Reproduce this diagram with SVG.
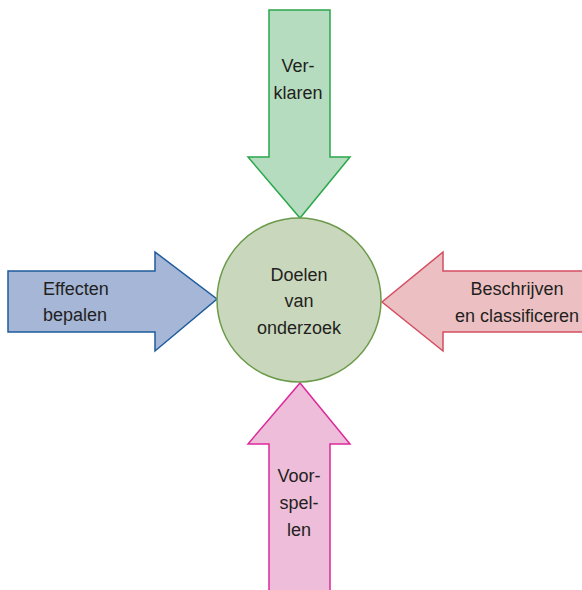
<svg xmlns="http://www.w3.org/2000/svg" width="582" height="590" viewBox="0 0 582 590">
<style>
text{font-family:"Liberation Sans",Arial,sans-serif;font-size:18px;fill:#231f20}
.c{text-anchor:middle}
.a{stroke-width:1.5;stroke-linejoin:miter}
</style>
<rect width="582" height="590" fill="#ffffff"/>
<g id="connectors">
<polygon id="arrow-top" class="a" points="269,10 330,10 330,157 350,157 300,218 248,157 269,157" fill="#b5dcbe" stroke="#2aa74b"/>
<polygon id="arrow-left" class="a" points="8,271 155,271 155,252 217,299 155,351 155,332 8,332" fill="#a5b6d7" stroke="#1e5c9c"/>
<polygon id="arrow-right" class="a" points="590,271 443,271 443,252 382,302 443,351 443,332 590,332" fill="#ecbfc2" stroke="#d34f62"/>
<polygon id="arrow-bottom" class="a" points="269,600 269,444 248,444 300,383 350,444 330,444 330,600" fill="#edbdd9" stroke="#db2a9c"/>
</g>
<g id="node-center">
<circle cx="299" cy="300" r="82" fill="#c9d8bd" stroke="#6b9a4a" stroke-width="1.5"/>
<text class="c" x="299" y="281">Doelen</text>
<text class="c" x="299" y="307">van</text>
<text class="c" x="299" y="334">onderzoek</text>
</g>
<g id="node-top">
<text class="c" x="298" y="72">Ver-</text>
<text class="c" x="298" y="99">klaren</text>
</g>
<g id="node-left">
<text x="43" y="295">Effecten</text>
<text x="43" y="321">bepalen</text>
</g>
<g id="node-right">
<text class="c" x="517" y="295">Beschrijven</text>
<text class="c" x="517" y="322">en classificeren</text>
</g>
<g id="node-bottom">
<text class="c" x="299" y="482">Voor-</text>
<text class="c" x="299" y="509">spel-</text>
<text class="c" x="299" y="536">len</text>
</g>
</svg>
